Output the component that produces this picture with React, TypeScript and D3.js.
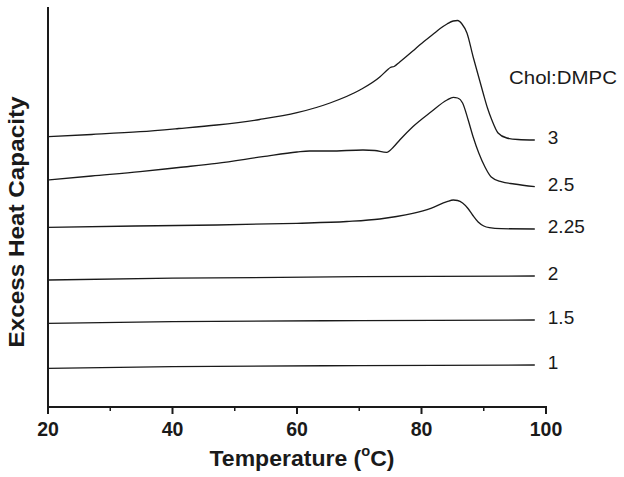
import React from "react";
import * as d3 from "d3";

// Temperature (°C) and excess heat capacity (arbitrary units, stacked offsets)
const temps3 = [20, 27, 34.8, 41, 47.1, 54, 60, 65.3, 70.1, 73.3, 74.5, 75.0, 75.6, 76.5, 78.6, 79.8, 81.9, 83, 84.1, 85.1, 85.8, 86.5, 87.3, 88.3, 89.1, 89.9, 90.6, 91.3, 92.3, 93.7, 95.5, 98.2];
const cp3 = [270.3, 272.5, 275.3, 278.5, 282, 287.5, 294.3, 304, 317, 330, 337, 339.5, 340.5, 345, 356, 362.5, 373, 378.5, 383, 386, 386.5, 383, 374, 350, 332, 314, 299, 287, 274, 269, 267.5, 267];

const temps25 = [20, 27, 34.8, 41, 47.1, 54.5, 60, 62, 65.3, 70.6, 72.5, 74.4, 75.5, 76.5, 78.6, 81.5, 84.1, 85.1, 85.8, 86.6, 87.5, 88.3, 89.2, 90.2, 91.2, 92.8, 94.9, 98.2];
const cp25 = [227, 231, 235.3, 239.5, 243.7, 250.3, 255, 256, 256, 257, 256.5, 254.7, 260, 267, 280.3, 295, 307, 309.7, 309, 304, 287, 270, 254, 240, 230, 225.3, 223, 220.3];

const temps225 = [20, 34, 47.1, 60, 68, 73.3, 76, 78.6, 81.5, 84.1, 85.1, 85.8, 86.6, 87.4, 88.2, 89.1, 90, 90.9, 92.8, 98.2];
const cp225 = [179.7, 181, 182, 183.7, 185.5, 188, 190.5, 193.7, 198.7, 205.3, 207, 206.5, 204, 199, 192, 185, 181, 179.3, 178.3, 178];

const tempsFlat = [20, 40, 70, 98.2];
const cp2 = [127, 128.8, 130.3, 131];
const cp15 = [83.7, 85.3, 86.4, 87];
const cp1 = [38.7, 40.3, 41.4, 42];

const seriesLabels = ["3", "2.5", "2.25", "2", "1.5", "1"];
const majorTicks = [20, 40, 60, 80, 100];
const minorTicks = [30, 50, 70, 90];

const W = 624;
const H = 477;

export default function App() {
  const x = d3.scaleLinear().domain([20, 100]).range([48, 546]);
  const y = d3.scaleLinear().domain([0, 400]).range([407, 7]);
  const line = d3
    .line<[number, number]>()
    .x((d) => x(d[0]))
    .y((d) => y(d[1]))
    .curve(d3.curveMonotoneX);

  const series: [number[], number[]][] = [
    [temps3, cp3],
    [temps25, cp25],
    [temps225, cp225],
    [tempsFlat, cp2],
    [tempsFlat, cp15],
    [tempsFlat, cp1],
  ];

  const font = "'Liberation Sans', Arial, Helvetica, sans-serif";
  const ink = "#1a1a1a";

  return (
    <svg
      width={W}
      height={H}
      style={{ position: "absolute", left: 0, top: 0, background: "#fff" }}
      fontFamily={font}
    >
      <rect x={0} y={0} width={W} height={H} fill="#fff" />
      {series.map(([ts, vs], i) => {
        const pts = ts.map((t, j) => [t, vs[j]] as [number, number]);
        const last = pts[pts.length - 1];
        return (
          <g key={i}>
            <path d={line(pts) || ""} fill="none" stroke={ink} strokeWidth={1.3} />
            <text x={x(last[0]) + 13} y={y(last[1]) + 4} fontSize={19} fill={ink}>
              {seriesLabels[i]}
            </text>
          </g>
        );
      })}
      <text x={509} y={84} fontSize={19} fill={ink} textLength={108} lengthAdjust="spacingAndGlyphs">
        Chol:DMPC
      </text>

      {/* axes */}
      <line x1={x(20)} x2={x(20)} y1={y(400)} y2={y(0) + 1} stroke={ink} strokeWidth={2} />
      <line x1={x(20) - 1} x2={x(100) + 1} y1={y(0)} y2={y(0)} stroke={ink} strokeWidth={2} />
      {majorTicks.map((t) => (
        <g key={"M" + t}>
          <line x1={x(t)} x2={x(t)} y1={y(0)} y2={y(0) + 7} stroke={ink} strokeWidth={2} />
          <text x={x(t)} y={436} fontSize={19.5} fontWeight="bold" textAnchor="middle" fill={ink}>
            {t}
          </text>
        </g>
      ))}
      {minorTicks.map((t) => (
        <line key={"m" + t} x1={x(t)} x2={x(t)} y1={y(0)} y2={y(0) + 4} stroke={ink} strokeWidth={1.5} />
      ))}

      <text x={302} y={466} fontSize={22} fontWeight="bold" textAnchor="middle" fill={ink} textLength={185} lengthAdjust="spacingAndGlyphs">
        Temperature (<tspan fontSize={14} dy={-10}>o</tspan>
        <tspan dy={10}>C)</tspan>
      </text>
      <text
        transform="translate(24,222) rotate(-90)"
        fontSize={22}
        fontWeight="bold"
        textAnchor="middle"
        fill={ink}
        textLength={251}
        lengthAdjust="spacingAndGlyphs"
      >
        Excess Heat Capacity
      </text>
    </svg>
  );
}
